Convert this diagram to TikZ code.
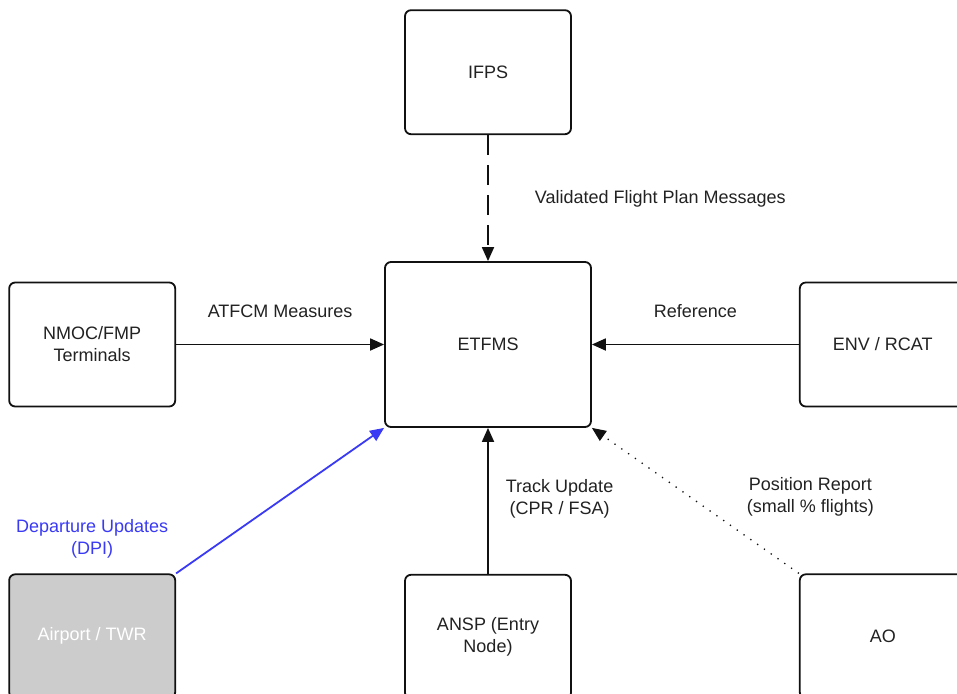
\documentclass[tikz,border=0pt]{standalone}
\usepackage{fontspec}
\setmainfont{Liberation Sans}
\usetikzlibrary{arrows.meta, positioning}
\definecolor{lineDark}{HTML}{111111}
\definecolor{textDark}{HTML}{222222}
\definecolor{dpiBlue}{HTML}{3A3AF5}
\definecolor{aptGray}{HTML}{CCCCCC}
\tikzset{
  arrowK/.style={-{Triangle[length=14pt, width=12pt]}, lineDark, line width=1.8pt},
  arrowB/.style={-{Triangle[length=14pt, width=12pt]}, dpiBlue, line width=1.8pt},
  boxS/.style={rectangle, rounded corners=6pt, draw=lineDark, fill=white,
               line width=1.8pt, align=center, text=textDark,
               minimum width=166pt, minimum height=124pt, inner sep=4pt},
  boxE/.style={boxS, minimum width=206pt, minimum height=165pt},
  boxApt/.style={boxS, fill=aptGray, text=white},
  lbl/.style={align=center, text=textDark, inner sep=0pt},
}
\begin{document}
\begin{tikzpicture}[font=\fontsize{18}{22}\selectfont]
    \clip (0pt,0pt) rectangle (957pt,-693pt);
    \fill[white] (0pt,0pt) rectangle (957pt,-693pt);
    \node[boxE] (etfms) at (488pt,-344.5pt) {ETFMS};
    \node[boxS, above=126pt of etfms] (ifps) {IFPS};
    \node[boxS, left=208pt of etfms] (nmoc) {NMOC/FMP\\Terminals};
    \node[boxS, right=207pt of etfms] (env) {ENV / RCAT};
    \node[boxApt, below=166pt of nmoc] (apt) {Airport / TWR};
    \node[boxS, below=146pt of etfms] (ansp) {ANSP (Entry\\Node)};
    \node[boxS, below=166pt of env] (ao) {AO};
    \node[lbl, text=dpiBlue, above=15pt of apt] (lbldpi) {Departure Updates\\(DPI)};
    \draw[arrowK, dash pattern=on 20pt off 10pt] (ifps) -- (etfms)
      node[lbl, midway, anchor=west, xshift=46pt, yshift=-1pt] (lblvfp) {Validated Flight Plan Messages};
    \draw[arrowK] (nmoc) -- (etfms)
      node[lbl, midway, above=26pt] (lblatfcm) {ATFCM Measures};
    \draw[arrowK] (env) -- (etfms)
      node[lbl, midway, above=26pt] (lblref) {Reference};
    \draw[arrowB] (apt.north east) -- (etfms.south west);
    \draw[arrowK] (ansp) -- (etfms)
      node[lbl, midway, anchor=west, xshift=17pt, yshift=2pt] (lbltrack) {Track Update\\(CPR / FSA)};
    \draw[arrowK, line width=1.3pt, dash pattern=on 1.3pt off 7pt] (ao.north west) -- (etfms.south east)
      node[lbl, midway, xshift=115pt, yshift=4pt] (lblpos) {Position Report\\(small \% flights)};
  \end{tikzpicture}
\end{document}
